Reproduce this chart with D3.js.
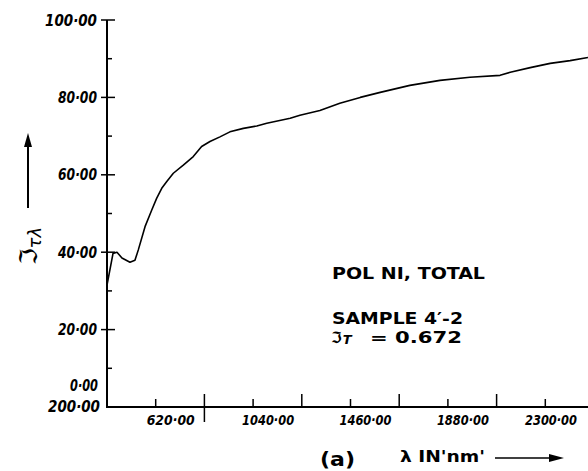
<!DOCTYPE html>
<html><head><meta charset="utf-8">
<script src="https://cdn.jsdelivr.net/npm/d3@7/dist/d3.min.js"></script>
<style>
html,body{margin:0;padding:0;background:#fff;}
svg{display:block;}
</style></head>
<body>
<svg id="chart" width="588" height="471"></svg>
<script>
// ---- data ----
const wavelength = [200,200,252,286,329,398,441,470,528,586,624,646,667,696,739,782,818,854,897,940,998,1056,1099,1200,1242,1328,1414,1502,1588,1716,1846,1975,2105,2149,2235,2321,2407,2484];
const transmittance = [40,31.5,39.7,40,38.5,37.4,37.9,40.6,46.6,50.9,53.9,56.5,58.2,60.4,62.5,64.7,67.3,68.6,69.8,71.1,72.0,72.6,73.3,74.6,75.4,76.6,78.5,80,81.3,83.1,84.4,85.2,85.7,86.5,87.7,88.8,89.5,90.3];
const yTickValues = [20,40,60,80,100];
const yMinorValues = [10,30,50,70,90];
const xTickValues = [620,1040,1460,1880,2300];
const xTallTickValues = [830,1250,1670,2090];
const xOrigin = 200;
const annotationLines = ["POL NI, TOTAL","SAMPLE 4′-2"];
const tauValue = "= 0.672";

const svg = d3.select("#chart");
const x0 = 107, step = 48.7;
const x = d3.scaleLinear().domain([200,620,2300,2510]).range([x0, x0+step, x0+9*step, x0+10*step]);
const y = d3.scaleLinear().domain([0,100]).range([407,20]);
const fmt = v => d3.format(".2f")(v).replace(".", "·");
const tickFont = "'DejaVu Sans Condensed','DejaVu Sans', sans-serif";
const tickSize = 15.5;

function tickText(sel){
  return sel.attr("font-family",tickFont).attr("font-weight","bold")
    .attr("font-style","italic").attr("font-size",tickSize)
    .attr("lengthAdjust","spacingAndGlyphs");
}

// axes lines
svg.append("line").attr("x1",x0).attr("x2",x0).attr("y1",y(100)).attr("y2",y(0)+1)
  .attr("stroke","#000").attr("stroke-width",2);
svg.append("line").attr("x1",x0).attr("x2",588).attr("y1",y(0)).attr("y2",y(0))
  .attr("stroke","#000").attr("stroke-width",2);

// y ticks
svg.selectAll(".ytick").data(yTickValues).join("line")
  .attr("x1",x0-6).attr("x2",x0+8).attr("y1",d=>y(d)).attr("y2",d=>y(d))
  .attr("stroke","#000").attr("stroke-width",1.5);
svg.selectAll(".yminor").data(yMinorValues).join("line")
  .attr("x1",x0).attr("x2",x0+5).attr("y1",d=>y(d)).attr("y2",d=>y(d))
  .attr("stroke","#000").attr("stroke-width",1.5);
svg.selectAll(".ylab").data(yTickValues).join("text")
  .attr("x",97).attr("y",d=>y(d)).attr("dy","0.36em")
  .attr("text-anchor","end").call(tickText)
  .attr("textLength",d=>d===100?52:39)
  .text(d=>fmt(d));
// 0.00 and origin label
svg.append("text").attr("x",98).attr("y",y(0)-22).attr("dy","0.36em")
  .attr("text-anchor","end").call(tickText).attr("textLength",28).text(fmt(0));
svg.append("text").attr("x",100).attr("y",y(0)-1).attr("dy","0.36em")
  .attr("text-anchor","end").call(tickText).attr("textLength",52).text(fmt(xOrigin));

// x ticks
svg.selectAll(".xtick").data(xTickValues).join("line")
  .attr("x1",d=>x(d)).attr("x2",d=>x(d)).attr("y1",y(0)-8).attr("y2",y(0))
  .attr("stroke","#000").attr("stroke-width",1.5);
svg.selectAll(".xtall").data(xTallTickValues).join("line")
  .attr("x1",d=>x(d)).attr("x2",d=>x(d)).attr("y1",y(0)-13).attr("y2",(d,i)=>i===0?y(0)+15:y(0))
  .attr("stroke","#000").attr("stroke-width",1.5);
const xLabW = d => d<1000?48:52;
svg.selectAll(".xlab").data(xTickValues).join("text")
  .attr("x",d=>Math.min(x(d)+15, 577 - xLabW(d)/2)).attr("y",y(0)+18)
  .attr("text-anchor","middle").call(tickText)
  .attr("font-size",14.5)
  .attr("textLength",xLabW)
  .text(d=>fmt(d));

// curve
const pts = wavelength.map((w,i)=>[w, transmittance[i]]);
svg.append("path").datum(pts)
  .attr("fill","none").attr("stroke","#000").attr("stroke-width",1.6).attr("stroke-linejoin","round")
  .attr("d", d3.line().x(d=>x(d[0])).y(d=>y(d[1])));

// y label
const yl = svg.append("text").attr("transform","translate(37,246) rotate(-90)")
  .attr("text-anchor","middle").attr("font-family","'DejaVu Sans', sans-serif").attr("font-size",24);
yl.append("tspan").text("ℑ");
yl.append("tspan").attr("font-size",18).attr("font-style","italic").attr("dy",4).text("τλ");
// y arrow
svg.append("line").attr("x1",28).attr("x2",28).attr("y1",208).attr("y2",142)
  .attr("stroke","#000").attr("stroke-width",2);
svg.append("path").attr("d","M28,133 L24,147 L32,147 Z").attr("fill","#000");

// annotation
const annFont = "'DejaVu Sans Condensed','DejaVu Sans',sans-serif";
svg.append("text").attr("x",332).attr("y",279).attr("font-family",annFont).attr("font-weight","bold")
  .attr("font-size",15.5).attr("textLength",153).attr("lengthAdjust","spacingAndGlyphs").text(annotationLines[0]);
svg.append("text").attr("x",332).attr("y",324).attr("font-family",annFont).attr("font-weight","bold")
  .attr("font-size",15).attr("textLength",131).attr("lengthAdjust","spacingAndGlyphs").text(annotationLines[1]);
const t3 = svg.append("text").attr("x",331).attr("y",343).attr("font-family","'DejaVu Sans',sans-serif").attr("font-weight","bold").attr("font-size",15.5);
t3.append("tspan").text("ℑ");
t3.append("tspan").attr("font-style","italic").attr("font-size",13).attr("dy",1).attr("dx",1).text("T");
svg.append("text").attr("x",370).attr("y",342.5).attr("font-family",annFont).attr("font-weight","bold")
  .attr("font-size",15).attr("textLength",92).attr("lengthAdjust","spacingAndGlyphs").text(tauValue);

// bottom labels
svg.append("text").attr("x",320).attr("y",466).attr("font-family",annFont).attr("font-weight","bold")
  .attr("font-size",20).attr("textLength",35).attr("lengthAdjust","spacingAndGlyphs").text("(a)");
svg.append("text").attr("x",400).attr("y",462).attr("font-family",annFont).attr("font-weight","bold")
  .attr("font-size",15).attr("textLength",85).attr("lengthAdjust","spacingAndGlyphs").text("λ IN'nm'");
svg.append("line").attr("x1",495).attr("x2",552).attr("y1",458).attr("y2",458)
  .attr("stroke","#000").attr("stroke-width",1.5);
svg.append("path").attr("d","M564,458 L549,454 L549,462 Z").attr("fill","#000");
</script>
</body></html>
